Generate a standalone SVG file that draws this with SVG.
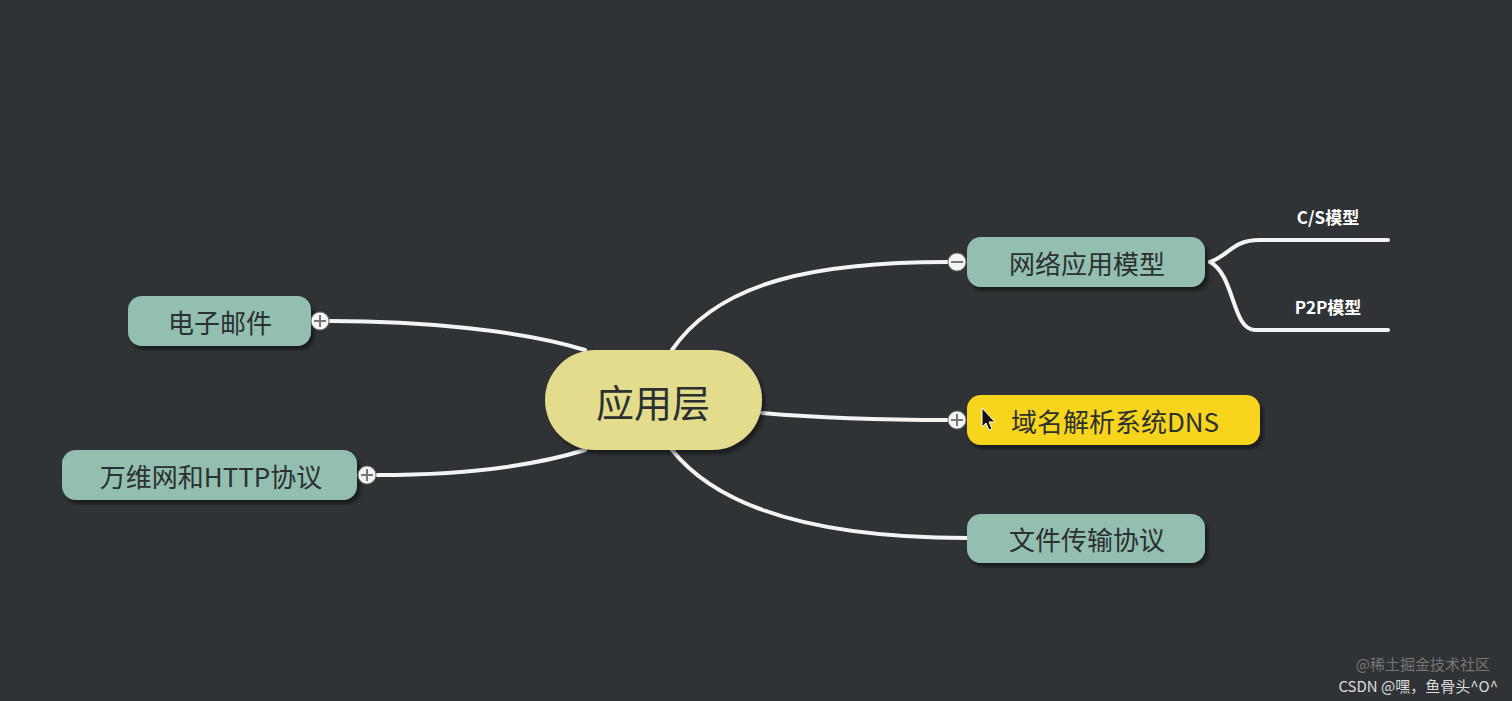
<svg xmlns="http://www.w3.org/2000/svg" width="1512" height="701" viewBox="0 0 1512 701">
<style>
.t{font-family:"Noto Sans CJK SC","Noto Sans",sans-serif;fill:#2b3030;text-anchor:middle;dominant-baseline:central}
.n{fill:#93bfb0}
.c{fill:none;stroke:#f4f4f4;stroke-width:4;stroke-linecap:round}
.tg{fill:#f4f4f4;stroke:#777;stroke-width:1}
.s{font-family:"Noto Sans CJK SC","Noto Sans",sans-serif;fill:#fff;font-size:17px;font-weight:bold;text-anchor:middle}
</style>
<defs><filter id="sh"><feDropShadow dx="3" dy="4" stdDeviation="2" flood-color="#000" flood-opacity="0.5"/></filter></defs>
<rect width="1512" height="701" fill="#2f3335"/>
<g id="connectors">
<path class="c" d="M672 350 C720 280 820 262 948 262"/>
<path class="c" d="M762 413 C820 418 880 420 948 420"/>
<path class="c" d="M672 450 C720 510 820 538 967 538"/>
<path class="c" d="M585 350 C520 330 420 321 330 321"/>
<path class="c" d="M585 450 C520 470 440 475 377 475"/>
<path class="c" d="M1210 262 C1230 255 1232 240 1260 240 L1388 240"/>
<path class="c" d="M1210 262 C1235 275 1232 330 1255 330 L1388 330"/>
</g>
<g id="center"><rect x="545" y="350" width="217" height="100" rx="50" fill="#e3dc8c" filter="url(#sh)"/><text class="t" x="653" y="400" font-size="38">应用层</text></g>
<g id="n1"><rect class="n" x="967" y="237" width="238" height="50" rx="14" filter="url(#sh)"/><text class="t" x="1087" y="262" font-size="26">网络应用模型</text>
<circle class="tg" cx="957" cy="262" r="9"/><path d="M951 262h12" stroke="#777" stroke-width="2"/></g>
<g id="n2"><rect x="967" y="395" width="293" height="50" rx="14" fill="#f7d51c" filter="url(#sh)"/><text class="t" x="1115" y="420" font-size="26">域名解析系统DNS</text>
<circle class="tg" cx="957" cy="420" r="9"/><path d="M951 420h12M957 414v12" stroke="#777" stroke-width="2"/>
<path d="M982 408 l0 19 l4 -4 l3 7 l3 -1 l-3 -7 l6 0 z" fill="#111" stroke="#fff" stroke-width="1"/></g>
<g id="n3"><rect class="n" x="967" y="514" width="238" height="49" rx="14" filter="url(#sh)"/><text class="t" x="1087" y="538" font-size="26">文件传输协议</text></g>
<g id="n4"><rect class="n" x="128" y="296" width="183" height="50" rx="14" filter="url(#sh)"/><text class="t" x="220" y="321" font-size="26">电子邮件</text>
<circle class="tg" cx="320" cy="321" r="9"/><path d="M314 321h12M320 315v12" stroke="#777" stroke-width="2"/></g>
<g id="n5"><rect class="n" x="62" y="450" width="295" height="50" rx="14" filter="url(#sh)"/><text class="t" x="211" y="475" font-size="26">万维网和HTTP协议</text>
<circle class="tg" cx="367" cy="475" r="9"/><path d="M361 475h12M367 469v12" stroke="#777" stroke-width="2"/></g>
<g id="sub"><text class="s" x="1328" y="224">C/S模型</text><text class="s" x="1328" y="314">P2P模型</text></g>
<g id="wm" font-family="Noto Sans CJK SC,sans-serif" font-size="15">
<text x="1490" y="670" text-anchor="end" fill="#777">@稀土掘金技术社区</text>
<text x="1498" y="692" text-anchor="end" fill="#ddd">CSDN @嘿，鱼骨头^O^</text></g>
</svg>
